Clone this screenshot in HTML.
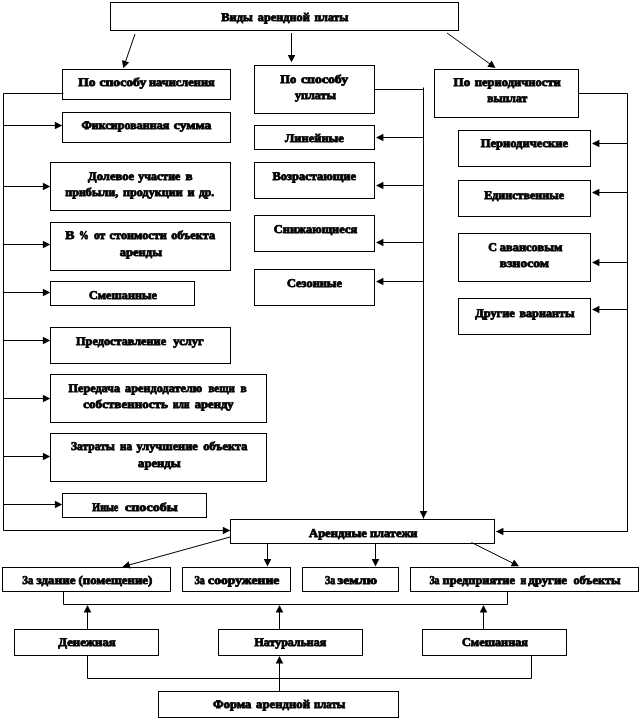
<!DOCTYPE html>
<html lang="ru"><head><meta charset="utf-8"><title>Виды арендной платы</title>
<style>
html,body{margin:0;padding:0;background:#fff;}
body{width:642px;height:720px;overflow:hidden;}
svg{display:block;will-change:transform;}
text{font-family:"Liberation Serif","Times New Roman",serif;font-weight:bold;font-size:11.8px;fill:#000;text-rendering:geometricPrecision;stroke:#000;stroke-width:0.8;}
.b{fill:none;stroke:#000;stroke-width:1;shape-rendering:crispEdges;}
.l{fill:none;stroke:#000;stroke-width:1;}
.a{fill:#000;stroke:none;}
</style></head><body>
<svg width="642" height="720" viewBox="0 0 642 720">

<g class="l">
<polyline points="63.5,93.5 3.5,93.5 3.5,530.5 230.5,530.5"/>
<polyline points="374.5,89.5 423.5,89.5"/>
<polyline points="423.5,87.5 423.5,518.5"/>
<polyline points="578.5,93.5 627.5,93.5 627.5,531.5 496.5,531.5"/>
<polyline points="63.5,591.5 63.5,604.5 507.5,604.5 507.5,591.5"/>
<polyline points="87.5,655.5 87.5,678.5 531.5,678.5 531.5,655.5"/>
<line x1="135" y1="34" x2="124.2" y2="65.5"/>
<line x1="291.5" y1="33" x2="291.5" y2="59.3"/>
<line x1="447" y1="33" x2="493.1" y2="66.2"/>
<line x1="3.5" y1="125.5" x2="59.3" y2="125.5"/>
<line x1="3.5" y1="186.5" x2="47.3" y2="186.5"/>
<line x1="3.5" y1="244.5" x2="47.3" y2="244.5"/>
<line x1="3.5" y1="292.5" x2="47.3" y2="292.5"/>
<line x1="3.5" y1="340.5" x2="47.3" y2="340.5"/>
<line x1="3.5" y1="398.5" x2="47.3" y2="398.5"/>
<line x1="3.5" y1="456.5" x2="47.3" y2="456.5"/>
<line x1="3.5" y1="504.5" x2="59.3" y2="504.5"/>
<line x1="423.5" y1="137.5" x2="379" y2="137.5"/>
<line x1="423.5" y1="185.5" x2="379" y2="185.5"/>
<line x1="423.5" y1="242.5" x2="379" y2="242.5"/>
<line x1="423.5" y1="281.5" x2="379" y2="281.5"/>
<line x1="627.5" y1="143.5" x2="595" y2="143.5"/>
<line x1="627.5" y1="192.5" x2="595" y2="192.5"/>
<line x1="627.5" y1="262.5" x2="595" y2="262.5"/>
<line x1="627.5" y1="309.5" x2="595" y2="309.5"/>
<line x1="423.5" y1="500" x2="423.5" y2="515.5"/>
<line x1="627.5" y1="531.5" x2="499" y2="531.5"/>
<line x1="200" y1="530.5" x2="227.3" y2="530.5"/>
<line x1="230.5" y1="536.9" x2="125.4" y2="566"/>
<line x1="267.5" y1="543.5" x2="267.5" y2="563.5"/>
<line x1="375.5" y1="543.5" x2="375.5" y2="563.5"/>
<line x1="471.5" y1="542.5" x2="516.3" y2="564.9"/>
<line x1="87.5" y1="629.5" x2="87.5" y2="608"/>
<line x1="279.5" y1="629.5" x2="279.5" y2="608"/>
<line x1="483.5" y1="629.5" x2="483.5" y2="608"/>
<line x1="279.5" y1="691.5" x2="279.5" y2="659"/>
</g>
<g class="a">
<polygon points="123.2,68.3 122.0,60.1 129.2,62.5"/>
<polygon points="291.5,62.3 287.7,54.9 295.3,54.9"/>
<polygon points="495.5,68.0 487.3,66.8 491.7,60.6"/>
<polygon points="62.3,125.5 54.9,129.3 54.9,121.7"/>
<polygon points="50.3,186.5 42.9,190.3 42.9,182.7"/>
<polygon points="50.3,244.5 42.9,248.3 42.9,240.7"/>
<polygon points="50.3,292.5 42.9,296.3 42.9,288.7"/>
<polygon points="50.3,340.5 42.9,344.3 42.9,336.7"/>
<polygon points="50.3,398.5 42.9,402.3 42.9,394.7"/>
<polygon points="50.3,456.5 42.9,460.3 42.9,452.7"/>
<polygon points="62.3,504.5 54.9,508.3 54.9,500.7"/>
<polygon points="376.0,137.5 383.4,133.7 383.4,141.3"/>
<polygon points="376.0,185.5 383.4,181.7 383.4,189.3"/>
<polygon points="376.0,242.5 383.4,238.7 383.4,246.3"/>
<polygon points="376.0,281.5 383.4,277.7 383.4,285.3"/>
<polygon points="592.0,143.5 599.4,139.7 599.4,147.3"/>
<polygon points="592.0,192.5 599.4,188.7 599.4,196.3"/>
<polygon points="592.0,262.5 599.4,258.7 599.4,266.3"/>
<polygon points="592.0,309.5 599.4,305.7 599.4,313.3"/>
<polygon points="423.5,518.5 419.7,511.1 427.3,511.1"/>
<polygon points="496.0,531.5 503.4,527.7 503.4,535.3"/>
<polygon points="230.3,530.5 222.9,534.3 222.9,526.7"/>
<polygon points="122.5,566.8 128.6,561.2 130.6,568.5"/>
<polygon points="267.5,566.5 263.7,559.1 271.3,559.1"/>
<polygon points="375.5,566.5 371.7,559.1 379.3,559.1"/>
<polygon points="519.0,566.2 510.7,566.3 514.1,559.5"/>
<polygon points="87.5,605.0 91.3,612.4 83.7,612.4"/>
<polygon points="279.5,605.0 283.3,612.4 275.7,612.4"/>
<polygon points="483.5,605.0 487.3,612.4 479.7,612.4"/>
<polygon points="279.5,656.0 283.3,663.4 275.7,663.4"/>
</g>
<g class="b">
<rect x="110.5" y="2.5" width="348" height="28"/>
<rect x="62.5" y="69.5" width="168" height="30"/>
<rect x="62.5" y="112.5" width="168" height="30"/>
<rect x="50.5" y="162.5" width="180" height="48"/>
<rect x="50.5" y="222.5" width="180" height="48"/>
<rect x="50.5" y="281.5" width="144" height="24"/>
<rect x="50.5" y="327.5" width="180" height="36"/>
<rect x="50.5" y="374.5" width="216" height="48"/>
<rect x="50.5" y="433.5" width="216" height="48"/>
<rect x="62.5" y="493.5" width="144" height="24"/>
<rect x="254.5" y="65.5" width="120" height="48"/>
<rect x="254.5" y="125.5" width="120" height="24"/>
<rect x="254.5" y="162.5" width="120" height="36"/>
<rect x="254.5" y="215.5" width="120" height="36"/>
<rect x="254.5" y="269.5" width="120" height="36"/>
<rect x="434.5" y="69.5" width="144" height="48"/>
<rect x="458.5" y="130.5" width="132" height="36"/>
<rect x="458.5" y="180.5" width="132" height="36"/>
<rect x="458.5" y="233.5" width="132" height="48"/>
<rect x="458.5" y="298.5" width="132" height="36"/>
<rect x="230.5" y="519.5" width="264" height="24"/>
<rect x="2.5" y="567.5" width="168" height="24"/>
<rect x="182.5" y="567.5" width="108" height="24"/>
<rect x="302.5" y="567.5" width="96" height="24"/>
<rect x="410.5" y="567.5" width="228" height="24"/>
<rect x="14.5" y="629.5" width="144" height="26"/>
<rect x="218.5" y="629.5" width="144" height="26"/>
<rect x="422.5" y="629.5" width="144" height="26"/>
<rect x="158.5" y="691.5" width="240" height="26"/>
</g>
<g>
<text y="20.6"><tspan x="221.2" textLength="31.6" lengthAdjust="spacingAndGlyphs">Виды</tspan> <tspan x="257.8" textLength="51.9" lengthAdjust="spacingAndGlyphs">арендной</tspan> <tspan x="314.6" textLength="33.7" lengthAdjust="spacingAndGlyphs">платы</tspan></text>
<text y="86"><tspan x="78.2" textLength="17.2" lengthAdjust="spacingAndGlyphs">По</tspan> <tspan x="99.4" textLength="46.9" lengthAdjust="spacingAndGlyphs">способу</tspan> <tspan x="148.9" textLength="65.9" lengthAdjust="spacingAndGlyphs">начисления</tspan></text>
<text y="129.1"><tspan x="81.4" textLength="87.9" lengthAdjust="spacingAndGlyphs">Фиксированная</tspan> <tspan x="173.8" textLength="37.6" lengthAdjust="spacingAndGlyphs">сумма</tspan></text>
<text y="180.4"><tspan x="88.1" textLength="45.9" lengthAdjust="spacingAndGlyphs">Долевое</tspan> <tspan x="138.3" textLength="42.1" lengthAdjust="spacingAndGlyphs">участие</tspan> <tspan x="185.6" textLength="7.1" lengthAdjust="spacingAndGlyphs">в</tspan></text>
<text y="195.5"><tspan x="65.2" textLength="53" lengthAdjust="spacingAndGlyphs">прибыли,</tspan> <tspan x="123.1" textLength="59.6" lengthAdjust="spacingAndGlyphs">продукции</tspan> <tspan x="187.6" textLength="7.1" lengthAdjust="spacingAndGlyphs">и</tspan> <tspan x="199" textLength="15.2" lengthAdjust="spacingAndGlyphs">др.</tspan></text>
<text y="239.4"><tspan x="65.2" textLength="9.2" lengthAdjust="spacingAndGlyphs">В</tspan> <tspan x="79" textLength="9.7" lengthAdjust="spacingAndGlyphs">%</tspan> <tspan x="93.9" textLength="11.4" lengthAdjust="spacingAndGlyphs">от</tspan> <tspan x="109.6" textLength="57.3" lengthAdjust="spacingAndGlyphs">стоимости</tspan> <tspan x="171.2" textLength="43.9" lengthAdjust="spacingAndGlyphs">объекта</tspan></text>
<text y="255.5"><tspan x="119.7" textLength="42.4" lengthAdjust="spacingAndGlyphs">аренды</tspan></text>
<text y="298.7"><tspan x="89" textLength="67.9" lengthAdjust="spacingAndGlyphs">Смешанные</tspan></text>
<text y="344.9"><tspan x="76.1" textLength="90" lengthAdjust="spacingAndGlyphs">Предоставление</tspan> <tspan x="173.3" textLength="30.3" lengthAdjust="spacingAndGlyphs">услуг</tspan></text>
<text y="391.9"><tspan x="68.6" textLength="51.4" lengthAdjust="spacingAndGlyphs">Передача</tspan> <tspan x="125.1" textLength="77.1" lengthAdjust="spacingAndGlyphs">арендодателю</tspan> <tspan x="208.4" textLength="26.4" lengthAdjust="spacingAndGlyphs">вещи</tspan> <tspan x="240.6" textLength="6.2" lengthAdjust="spacingAndGlyphs">в</tspan></text>
<text y="408.4"><tspan x="83.3" textLength="84.6" lengthAdjust="spacingAndGlyphs">собственность</tspan> <tspan x="173.1" textLength="16.4" lengthAdjust="spacingAndGlyphs">или</tspan> <tspan x="194.7" textLength="39" lengthAdjust="spacingAndGlyphs">аренду</tspan></text>
<text y="450.3"><tspan x="71" textLength="43.8" lengthAdjust="spacingAndGlyphs">Затраты</tspan> <tspan x="120" textLength="12" lengthAdjust="spacingAndGlyphs">на</tspan> <tspan x="136.4" textLength="61.4" lengthAdjust="spacingAndGlyphs">улучшение</tspan> <tspan x="203.2" textLength="44.2" lengthAdjust="spacingAndGlyphs">объекта</tspan></text>
<text y="466.9"><tspan x="138.1" textLength="42.5" lengthAdjust="spacingAndGlyphs">аренды</tspan></text>
<text y="510.7"><tspan x="92.3" textLength="26" lengthAdjust="spacingAndGlyphs">Иные</tspan> <tspan x="125" textLength="52.7" lengthAdjust="spacingAndGlyphs">способы</tspan></text>
<text y="83.4"><tspan x="280.3" textLength="16" lengthAdjust="spacingAndGlyphs">По</tspan> <tspan x="301" textLength="47.1" lengthAdjust="spacingAndGlyphs">способу</tspan></text>
<text y="98.6"><tspan x="294.9" textLength="41.2" lengthAdjust="spacingAndGlyphs">уплаты</tspan></text>
<text y="142.1"><tspan x="285" textLength="58.9" lengthAdjust="spacingAndGlyphs">Линейные</tspan></text>
<text y="180.4"><tspan x="272.4" textLength="83.6" lengthAdjust="spacingAndGlyphs">Возрастающие</tspan></text>
<text y="233.4"><tspan x="273.8" textLength="83.3" lengthAdjust="spacingAndGlyphs">Снижающиеся</tspan></text>
<text y="287.1"><tspan x="287" textLength="55" lengthAdjust="spacingAndGlyphs">Сезонные</tspan></text>
<text y="86"><tspan x="453.6" textLength="16.6" lengthAdjust="spacingAndGlyphs">По</tspan> <tspan x="474.8" textLength="86" lengthAdjust="spacingAndGlyphs">периодичности</tspan></text>
<text y="102.3"><tspan x="487.2" textLength="40" lengthAdjust="spacingAndGlyphs">выплат</tspan></text>
<text y="147.4"><tspan x="480.7" textLength="87.3" lengthAdjust="spacingAndGlyphs">Периодические</tspan></text>
<text y="198.6"><tspan x="484.2" textLength="79.8" lengthAdjust="spacingAndGlyphs">Единственные</tspan></text>
<text y="250.6"><tspan x="488.3" textLength="8.7" lengthAdjust="spacingAndGlyphs">С</tspan> <tspan x="499.8" textLength="62.6" lengthAdjust="spacingAndGlyphs">авансовым</tspan></text>
<text y="267.3"><tspan x="499.8" textLength="49.2" lengthAdjust="spacingAndGlyphs">взносом</tspan></text>
<text y="316.5"><tspan x="475.2" textLength="39.6" lengthAdjust="spacingAndGlyphs">Другие</tspan> <tspan x="519.4" textLength="55.2" lengthAdjust="spacingAndGlyphs">варианты</tspan></text>
<text y="536.6"><tspan x="309.1" textLength="57.7" lengthAdjust="spacingAndGlyphs">Арендные</tspan> <tspan x="369.9" textLength="47.6" lengthAdjust="spacingAndGlyphs">платежи</tspan></text>
<text y="584.1"><tspan x="22.3" textLength="11" lengthAdjust="spacingAndGlyphs">За</tspan> <tspan x="36.5" textLength="39" lengthAdjust="spacingAndGlyphs">здание</tspan> <tspan x="78.6" textLength="73.7" lengthAdjust="spacingAndGlyphs">(помещение)</tspan></text>
<text y="584.4"><tspan x="194.4" textLength="10.3" lengthAdjust="spacingAndGlyphs">За</tspan> <tspan x="208.1" textLength="71.3" lengthAdjust="spacingAndGlyphs">сооружение</tspan></text>
<text y="584.2"><tspan x="325" textLength="10.2" lengthAdjust="spacingAndGlyphs">За</tspan> <tspan x="337.6" textLength="39.4" lengthAdjust="spacingAndGlyphs">землю</tspan></text>
<text y="584.2"><tspan x="429.4" textLength="10.2" lengthAdjust="spacingAndGlyphs">За</tspan> <tspan x="442.6" textLength="72.4" lengthAdjust="spacingAndGlyphs">предприятие</tspan> <tspan x="520.6" textLength="5.7" lengthAdjust="spacingAndGlyphs">и</tspan> <tspan x="528.2" textLength="38.8" lengthAdjust="spacingAndGlyphs">другие</tspan> <tspan x="573.4" textLength="47.1" lengthAdjust="spacingAndGlyphs">объекты</tspan></text>
<text y="646.3"><tspan x="58.2" textLength="57.6" lengthAdjust="spacingAndGlyphs">Денежная</tspan></text>
<text y="646.2"><tspan x="254.5" textLength="71.7" lengthAdjust="spacingAndGlyphs">Натуральная</tspan></text>
<text y="646.2"><tspan x="462" textLength="66" lengthAdjust="spacingAndGlyphs">Смешанная</tspan></text>
<text y="708.2"><tspan x="213" textLength="38.3" lengthAdjust="spacingAndGlyphs">Форма</tspan> <tspan x="256.1" textLength="53.9" lengthAdjust="spacingAndGlyphs">арендной</tspan> <tspan x="314" textLength="31.2" lengthAdjust="spacingAndGlyphs">платы</tspan></text>
</g>
</svg>
</body></html>
